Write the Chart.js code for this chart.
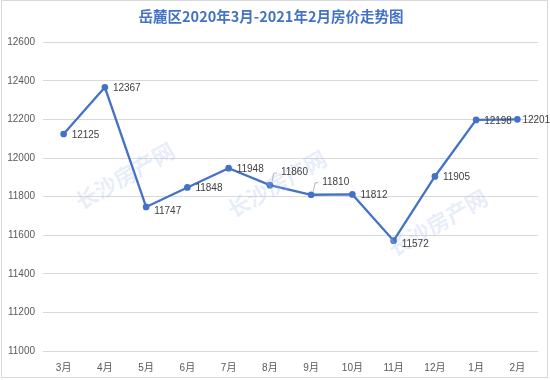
<!DOCTYPE html>
<html lang="zh">
<head>
<meta charset="UTF-8">
<title>岳麓区房价走势图</title>
<script src="https://cdn.jsdelivr.net/npm/chart.js"></script>
<style>
  body { margin: 0; background: #fff; }
  #wrap { width: 550px; height: 380px; }
</style>
<script>
  var months = ['3月', '4月', '5月', '6月', '7月', '8月', '9月', '10月', '11月', '12月', '1月', '2月'];
  var prices = [12125, 12367, 11747, 11848, 11948, 11860, 11810, 11812, 11572, 11905, 12198, 12201];
  var yTicks = [11000, 11200, 11400, 11600, 11800, 12000, 12200, 12400, 12600];
  var titleText = '岳麓区2020年3月-2021年2月房价走势图';
  var watermark = '长沙房产网';

  var fontFam = '"Liberation Sans", "Noto Sans CJK SC", sans-serif';

  // frame + watermark
  var backdrop = {
    id: 'backdrop',
    beforeDraw: function (chart) {
      var ctx = chart.ctx;
      ctx.save();
      ctx.fillStyle = '#fff';
      ctx.fillRect(0, 0, chart.width, chart.height);
      ctx.strokeStyle = '#d9d9d9';
      ctx.lineWidth = 1;
      ctx.strokeRect(1.5, 0.5, chart.width - 4, chart.height - 3);
      ctx.restore();
    },
    afterDatasetsDraw: function (chart) {
      var ctx = chart.ctx;
      var spots = [[125, 176, -0.52], [277, 184, -0.52], [438, 223, -0.52]];
      ctx.save();
      ctx.font = 'bold 22px "Noto Sans CJK SC"';
      ctx.fillStyle = 'rgba(170, 195, 235, 0.28)';
      ctx.textAlign = 'center';
      ctx.textBaseline = 'middle';
      spots.forEach(function (s) {
        ctx.save();
        ctx.translate(s[0], s[1]);
        ctx.rotate(s[2]);
        ctx.fillText(watermark, 0, 0);
        ctx.restore();
      });
      ctx.restore();
    }
  };

  // value labels right of each point
  var valueLabels = {
    id: 'valueLabels',
    afterDatasetsDraw: function (chart) {
      var ctx = chart.ctx;
      var meta = chart.getDatasetMeta(0);
      ctx.save();
      ctx.font = '10px ' + fontFam;
      ctx.fillStyle = '#404040';
      ctx.textBaseline = 'middle';
      meta.data.forEach(function (pt, i) {
        var x = pt.x, y = pt.y;
        var dx = 8, dy = 1;
        if (i === 2 || i === 8) { dy = 4; }
        if (i === 11) { dx = 5; }
        if (i === 5 || i === 6) {
          // leader line to a raised label
          ctx.strokeStyle = '#a6a6a6';
          ctx.lineWidth = 0.8;
          ctx.beginPath();
          ctx.moveTo(x + 2, y - 3);
          ctx.lineTo(x + 4, y - 12);
          ctx.lineTo(x + 7, y - 12);
          ctx.stroke();
          dx = 11; dy = -13;
        }
        ctx.fillText(String(prices[i]), x + dx, y + dy);
      });
      ctx.restore();
    }
  };

  window.onload = function () {
    var ctx = document.getElementById('myChart').getContext('2d');
    new Chart(ctx, {
      type: 'line',
      data: {
        labels: months,
        datasets: [{
          data: prices,
          borderColor: '#4472C4',
          backgroundColor: '#4472C4',
          borderWidth: 2.3,
          pointRadius: 2.2,
          pointHoverRadius: 2.2,
          tension: 0,
          fill: false
        }]
      },
      options: {
        responsive: false,
        animation: false,
        layout: { padding: { left: 4, right: 12, top: 0, bottom: 3 } },
        plugins: {
          legend: { display: false },
          tooltip: { enabled: false },
          title: {
            display: true,
            text: titleText,
            color: '#4472C4',
            font: { family: '"Noto Sans CJK SC", sans-serif', size: 14.5, weight: 'bold' },
            padding: { top: 8, bottom: 17 }
          }
        },
        scales: {
          x: {
            offset: true,
            grid: { display: false },
            border: { display: false },
            ticks: { color: '#595959', font: { family: fontFam, size: 10 }, padding: 3, maxRotation: 0 }
          },
          y: {
            min: 11000,
            max: 12600,
            afterBuildTicks: function (axis) {
              axis.ticks = yTicks.map(function (v) { return { value: v }; });
            },
            afterFit: function (axis) { axis.width = 39; },
            grid: { color: '#d9d9d9', drawTicks: false },
            border: { display: false },
            ticks: {
              color: '#595959',
              font: { family: fontFam, size: 10 },
              padding: 8,
              callback: function (v) { return String(v); }
            }
          }
        }
      },
      plugins: [backdrop, valueLabels]
    });
  };
</script>
</head>
<body>
  <div id="wrap">
    <canvas id="myChart" width="550" height="380"></canvas>
  </div>
</body>
</html>
